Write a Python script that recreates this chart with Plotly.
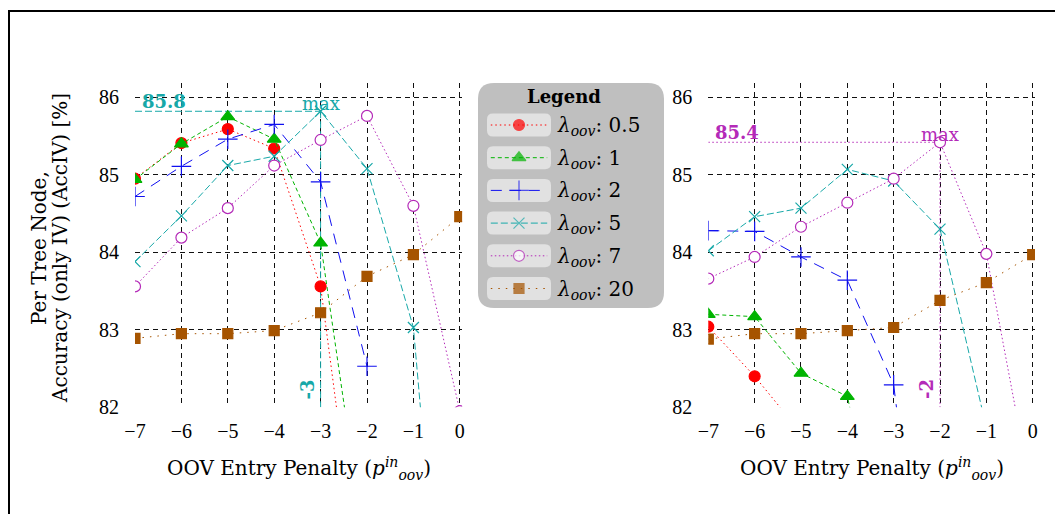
import plotly.graph_objects as go

# ---- data -------------------------------------------------------------
penalty = [-7, -6, -5, -4, -3, -2, -1, 0]
lambdas = ["0.5", "1", "2", "5", "7", "20"]

# left panel
left_l05 = [84.95, 85.41, 85.59, 85.34, 83.56, 79.0]
left_l1 = [84.94, 85.40, 85.75, 85.46, 84.12, 80.0]
left_l2 = [84.72, 85.11, 85.46, 85.65, 84.91, 82.53]
left_l5 = [83.88, 84.47, 85.12, 85.24, 85.82, 85.08, 83.03, 76.2]
left_l7 = [83.56, 84.19, 84.57, 85.12, 85.45, 85.76, 84.60, 81.95]
left_l20 = [82.89, 82.95, 82.95, 82.99, 83.22, 83.69, 83.97, 84.46]

# right panel
right_l05 = [83.04, 82.40, 81.67, 80.9]
right_l1 = [83.20, 83.17, 82.44, 82.14, 79.5]
right_l2 = [84.28, 84.27, 83.94, 83.64, 82.29, 77.5]
right_l5 = [84.02, 84.46, 84.57, 85.07, 84.92, 84.30, 81.74]
right_l7 = [83.66, 83.94, 84.33, 84.64, 84.95, 85.42, 83.98, 80.8]
right_l20 = [82.88, 82.95, 82.95, 82.99, 83.03, 83.38, 83.61, 83.97]

y_ticks = [82, 83, 84, 85, 86]

# ---- styling ----------------------------------------------------------
W, H = 1055, 514
TICK_FONT = "Liberation Serif"
TEXT_FONT = "DejaVu Serif"

RED = "#ff0000"
GREEN = "#00b400"
BLUE = "#1010f0"
TEAL = "#17a8a8"
VIOLET = "#b42ab8"
BROWN = "#a65400"

styles = [
    dict(color=RED, dash="1.5px,3px", symbol="circle", size=11, fill=RED),
    dict(color=GREEN, dash="4px,3px", symbol="triangle-up", size=12, fill=GREEN),
    dict(color=BLUE, dash="11px,8px", symbol="cross-thin", size=14, fill=BLUE),
    dict(color=TEAL, dash="7px,3px", symbol="x-thin", size=11, fill=TEAL),
    dict(color=VIOLET, dash="1.5px,2.5px", symbol="circle", size=11, fill="white"),
    dict(color=BROWN, dash="1.5px,6px", symbol="square", size=10, fill=BROWN),
]


def fx(p):
    return p / W


def fy(p):
    return 1 - p / H


def rounded_rect(x0, y0, x1, y1, r):
    """SVG path (paper coordinates) for a rounded rectangle given in pixels."""
    def P(x, y):
        return f"{fx(x):.5f},{fy(y):.5f}"
    return (
        f"M {P(x0 + r, y0)} L {P(x1 - r, y0)} "
        f"Q {P(x1, y0)} {P(x1, y0 + r)} L {P(x1, y1 - r)} "
        f"Q {P(x1, y1)} {P(x1 - r, y1)} L {P(x0 + r, y1)} "
        f"Q {P(x0, y1)} {P(x0, y1 - r)} L {P(x0, y0 + r)} "
        f"Q {P(x0, y0)} {P(x0 + r, y0)} Z"
    )


fig = go.Figure()


def add_series(values, st, xa, ya):
    xs = penalty[: len(values)]
    fig.add_trace(
        go.Scatter(
            x=xs, y=values, mode="lines+markers", xaxis=xa, yaxis=ya,
            line=dict(color=st["color"], width=1, dash=st["dash"]),
            marker=dict(symbol=st["symbol"], size=st["size"], color=st["fill"],
                        line=dict(color=st["color"], width=1.2)),
            showlegend=False, hoverinfo="skip", cliponaxis=True,
        )
    )


left = [left_l05, left_l1, left_l2, left_l5, left_l7, left_l20]
right = [right_l05, right_l1, right_l2, right_l5, right_l7, right_l20]
for vals, st in zip(left, styles):
    add_series(vals, st, "x", "y")
for vals, st in zip(right, styles):
    add_series(vals, st, "x2", "y2")

# legend samples drawn on their own small axes
for i, st in enumerate(styles):
    fig.add_trace(
        go.Scatter(
            x=[0.03, 0.5, 0.97], y=[i, i, i], mode="lines+markers",
            xaxis="x3", yaxis="y3",
            line=dict(color=st["color"], width=1, dash=st["dash"]),
            marker=dict(symbol=st["symbol"], size=[0, st["size"], 0], color=st["fill"],
                        line=dict(color=st["color"], width=1.2)),
            showlegend=False, hoverinfo="skip", cliponaxis=False,
        )
    )

# ---- axes -------------------------------------------------------------
plot_top, plot_bot = 83, 407.3
ydom = [fy(plot_bot), fy(plot_top)]
x_range = [-7, 0.05]
y_range = [82, 86.185]

common_x = dict(
    range=x_range, tickvals=penalty, showgrid=True, gridcolor="#111",
    griddash="5px,4px", gridwidth=1, zeroline=False, showline=False,
    ticks="outside", ticklen=6, tickcolor="rgba(0,0,0,0)", automargin=False,
    tickfont=dict(family=TICK_FONT, size=20, color="black"), fixedrange=True,
)
common_y = dict(
    range=y_range, tickvals=y_ticks, showgrid=True, gridcolor="#111",
    griddash="5px,4px", gridwidth=1, zeroline=False, showline=False,
    ticks="outside", ticklen=11, tickcolor="rgba(0,0,0,0)", automargin=False,
    tickfont=dict(family=TICK_FONT, size=20, color="black"), domain=ydom, fixedrange=True,
)

fig.update_layout(
    width=W, height=H, margin=dict(l=0, r=0, t=0, b=0, autoexpand=False),
    paper_bgcolor="white", plot_bgcolor="white",
    xaxis=dict(domain=[fx(135), fx(135 + 7.05 * 46.4)], anchor="y", **common_x),
    yaxis=dict(anchor="x", **common_y),
    xaxis2=dict(domain=[fx(708.3), fx(708.3 + 7.05 * 46.34)], anchor="y2", **common_x),
    yaxis2=dict(anchor="x2", **common_y),
    xaxis3=dict(domain=[fx(489), fx(549)], range=[0, 1], visible=False, anchor="y3",
                fixedrange=True, automargin=False),
    yaxis3=dict(domain=[fy(125 + 5.5 * 32.7), fy(125 - 0.5 * 32.7)], range=[5.5, -0.5],
                visible=False, anchor="x3", fixedrange=True, automargin=False),
    showlegend=False,
)

shapes = []
annotations = []

# outer frame (open to the right and bottom)
shapes.append(dict(type="path", xref="paper", yref="paper",
                   path=f"M {fx(9)},{fy(H + 5)} L {fx(9)},{fy(11)} L {fx(W + 5)},{fy(11)}",
                   line=dict(color="black", width=2)))

# legend box and entry pills
shapes.append(dict(type="path", xref="paper", yref="paper", layer="below",
                   path=rounded_rect(478, 83, 664, 308, 16),
                   fillcolor="#bfbfbf", line=dict(width=0)))
for i, lam in enumerate(lambdas):
    cy = 125 + 32.7 * i
    shapes.append(dict(type="path", xref="paper", yref="paper", layer="below",
                       path=rounded_rect(487, cy - 11.5, 551, cy + 11.5, 6),
                       fillcolor="#e1e1e1", line=dict(width=0)))
    annotations.append(dict(
        xref="paper", yref="paper", x=fx(555), y=fy(cy + 1), xanchor="left", yanchor="middle",
        text=f"<i>λ</i><sub><i>oov</i></sub>: {lam}", showarrow=False,
        font=dict(family=TEXT_FONT, size=20, color="black")))
annotations.append(dict(
    xref="paper", yref="paper", x=fx(564), y=fy(96), xanchor="center", yanchor="middle",
    text="<b>Legend</b>", showarrow=False, font=dict(family=TEXT_FONT, size=18, color="black")))


def mark_max(values, color, dash, xa, ya):
    xs = penalty[: len(values)]
    best = max(range(len(values)), key=lambda k: values[k])
    bx, by = xs[best], values[best]
    shapes.append(dict(type="line", xref=xa, yref=ya, x0=-7, x1=bx, y0=by, y1=by,
                       layer="between", line=dict(color=color, width=1, dash=dash)))
    shapes.append(dict(type="line", xref=xa, yref=ya, x0=bx, x1=bx, y0=by, y1=82,
                       layer="between", line=dict(color=color, width=1, dash=dash)))
    annotations.append(dict(xref=xa, yref=ya, x=-6.9, y=by, xanchor="left", yanchor="bottom",
                            text=f"<b>{by:.1f}</b>", showarrow=False, yshift=-3,
                            font=dict(family=TEXT_FONT, size=18, color=color)))
    annotations.append(dict(xref=xa, yref=ya, x=bx, y=by, xanchor="center", yanchor="bottom",
                            text="max", showarrow=False, yshift=-5,
                            font=dict(family=TEXT_FONT, size=18, color=color)))
    annotations.append(dict(xref=xa, yref=ya, x=bx, y=82.23, xanchor="right", yanchor="middle",
                            text=f"<b>{bx}</b>", showarrow=False, textangle=-90, xshift=-1,
                            font=dict(family=TEXT_FONT, size=18, color=color)))


mark_max(left_l5, TEAL, "7px,3px", "x", "y")
mark_max(right_l7, VIOLET, "1.5px,2.5px", "x2", "y2")

# axis titles
xtitle = "OOV Entry Penalty (<i>p</i><sup><i>in</i></sup><sub><i>oov</i></sub>)"
for xa in ("x", "x2"):
    annotations.append(dict(xref=f"{xa} domain", yref="paper", x=0.5, y=fy(468),
                            xanchor="center", yanchor="middle", text=xtitle, showarrow=False,
                            font=dict(family=TEXT_FONT, size=20, color="black")))
for cx, line in ((39, "Per Tree Node,"), (60, "Accuracy (only IV) (AccIV) [%]")):
    annotations.append(dict(xref="paper", yref="paper", x=fx(cx), y=fy(248), xanchor="center",
                            yanchor="middle", textangle=-90, showarrow=False, text=line,
                            font=dict(family=TEXT_FONT, size=20, color="black")))

fig.update_layout(shapes=shapes, annotations=annotations)
fig.write_html(
    "out.html",
    post_script="document.body.style.margin='0';document.body.style.overflow='hidden';",
)
